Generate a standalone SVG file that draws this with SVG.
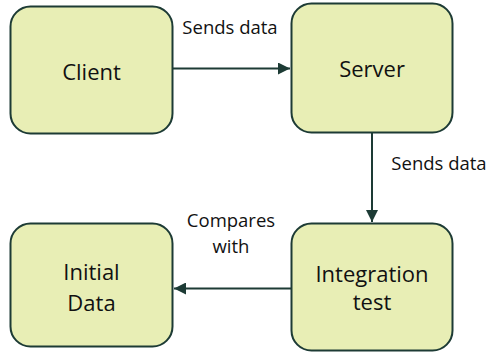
<svg xmlns="http://www.w3.org/2000/svg" width="491" height="353" viewBox="0 0 491 353">
<defs>
<style>
.box{fill:#e8eeb5;stroke:#1d3b35;stroke-width:2}
.t{font-family:"Open Sans",Lato,sans-serif;font-size:22px;fill:#111;text-anchor:middle}
.l{font-family:"Open Sans",Lato,sans-serif;font-size:18.5px;fill:#111;text-anchor:middle}
.c{stroke:#1d3b35;stroke-width:2;fill:none;marker-end:url(#ah)}
</style>
<marker id="ah" viewBox="0 0 10 10" refX="10" refY="5" markerWidth="6" markerHeight="6" markerUnits="strokeWidth" orient="auto">
<path d="M0,0 L10,5 L0,10 z" fill="#1d3b35"/>
</marker>
</defs>
<g id="client"><rect class="box" x="10.5" y="6.5" width="162" height="127" rx="20"/><text class="t" x="91.5" y="80">Client</text></g>
<g id="server"><rect class="box" x="291.5" y="3.5" width="161" height="129" rx="20"/><text class="t" x="372" y="77">Server</text></g>
<g id="initial"><rect class="box" x="10.5" y="223.5" width="162" height="123" rx="20"/><text class="t" x="91.5" y="280">Initial</text><text class="t" x="91.5" y="311">Data</text></g>
<g id="integration"><rect class="box" x="291.5" y="223.5" width="161" height="127" rx="20"/><text class="t" x="372" y="282">Integration</text><text class="t" x="372" y="310">test</text></g>
<g id="connectors">
<line class="c" x1="173" y1="68.5" x2="290" y2="68.5"/>
<line class="c" x1="372" y1="133" x2="372" y2="222"/>
<line class="c" x1="291" y1="288.5" x2="174" y2="288.5"/>
<text class="l" x="230" y="34">Sends data</text>
<text class="l" x="439" y="170">Sends data</text>
<text class="l" x="231" y="227">Compares</text>
<text class="l" x="231" y="253">with</text>
</g>
</svg>
